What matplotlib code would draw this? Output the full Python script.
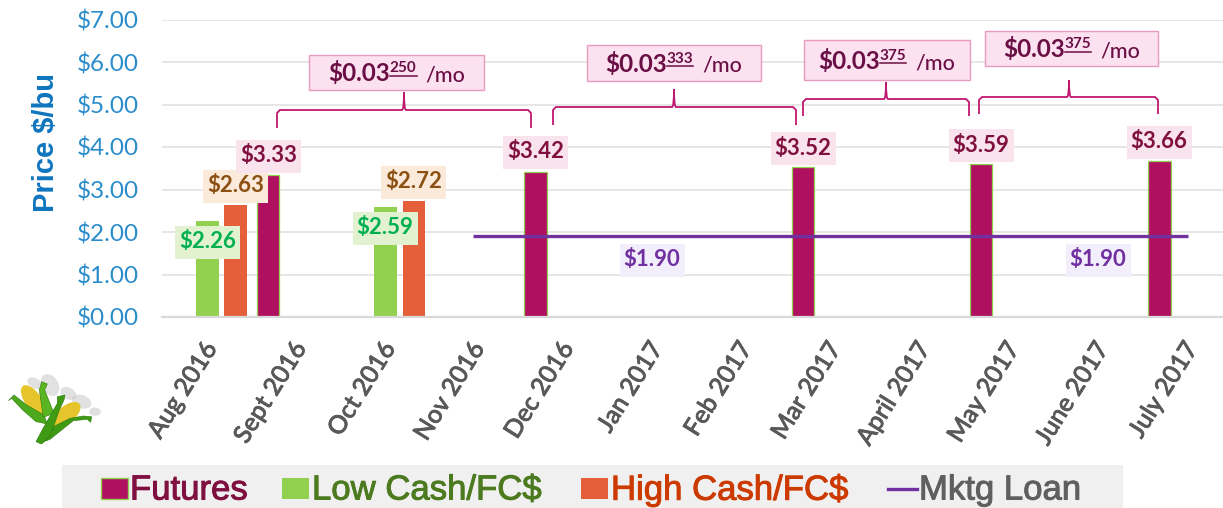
import numpy as np
import matplotlib
matplotlib.use("Agg")
import matplotlib.pyplot as plt
import matplotlib.patheffects as pe
from matplotlib.path import Path
from matplotlib.patches import PathPatch, Polygon, Ellipse, Rectangle

months = ["Aug 2016", "Sept 2016", "Oct 2016", "Nov 2016", "Dec 2016", "Jan 2017",
          "Feb 2017", "Mar 2017", "April 2017", "May 2017", "June 2017", "July 2017"]
low_cash = [2.26, np.nan, 2.59] + [np.nan] * 9
high_cash = [2.63, np.nan, 2.72] + [np.nan] * 9
futures = [np.nan, 3.33, np.nan, np.nan, 3.42, np.nan, np.nan, 3.52, np.nan, 3.59, np.nan, 3.66]
loan_value = 1.90
y_ticks = [0, 1, 2, 3, 4, 5, 6, 7]

W, H = 1223, 508
X0, STEP = 221.5, 89.15
L, R, T, B = 162, 1223, 19.5, 317

fig = plt.figure(figsize=(W / 100, H / 100), dpi=100)
ax = fig.add_axes([L / W, 1 - B / H, (R - L) / W, (B - T) / H])
ax.set_xlim((L - X0) / STEP, (R - X0) / STEP)
ax.set_ylim(0, 7)
for s in ["top", "right", "left"]:
    ax.spines[s].set_visible(False)
ax.spines["bottom"].set_color("#D9D9D9")
ax.spines["bottom"].set_linewidth(1.6)
ax.set_axisbelow(True)
ax.grid(axis="y", color="#E2E2E2", lw=1.2)

xs = np.arange(len(months))
ax.bar(xs - 0.157, low_cash, 0.26, color="#92D050")
ax.bar(xs + 0.157, high_cash, 0.25, color="#E55F3B")
ax.bar(xs - 0.478, futures, 0.25, color="#B01060", edgecolor="#92D050", linewidth=0.9)
ax.plot([2.82, 10.84], [loan_value, loan_value], color="#7030A0", lw=2.4, solid_capstyle="butt")

ax.set_yticks(y_ticks)
ax.set_yticklabels([f"${v}.00" for v in y_ticks], fontsize=17.5, color="#2A8CCB", family="Lato")
ax.tick_params(axis="y", length=0, pad=17)
ax.set_xticks(xs - 0.22)
ax.set_xticklabels(months, rotation=58, ha="right", va="top", rotation_mode="anchor",
                   fontsize=18, color="#595959", family="Lato", fontweight="medium",
                   path_effects=[pe.withStroke(linewidth=0.5, foreground="#595959")])
ax.tick_params(axis="x", length=0, pad=15)

# overlay in pixels for annotations
ov = fig.add_axes([0, 0, 1, 1], facecolor="none")
ov.set_xlim(0, W)
ov.set_ylim(H, 0)
ov.axis("off")


def box(cx, cy, txt, col, bg, w=65, h=33, fs=16):
    ov.add_patch(Rectangle((cx - w / 2, cy - h / 2), w, h, fc=bg, ec="none", zorder=4))
    ov.text(cx, cy, txt, color=col, ha="center", va="center", fontsize=fs, family="Lato",
            fontweight="bold", zorder=5)


for cx, cy, v in [(207.5, 242, low_cash[0]), (385, 228, low_cash[2])]:
    box(cx, cy, f"${v:.2f}", "#00B050", "#E2F2D0")
for cx, cy, v in [(235.5, 186, high_cash[0]), (413.5, 182, high_cash[2])]:
    box(cx, cy, f"${v:.2f}", "#8B5012", "#FBE9D9")
for cx, cy, v in [(268.5, 156, futures[1]), (535.5, 152, futures[4]), (803, 148.5, futures[7]),
                  (981, 145, futures[9]), (1159, 142, futures[11])]:
    box(cx, cy, f"${v:.2f}", "#7F1040", "#F9E3EC")
for cx, cy in [(652, 260), (1098, 260)]:
    box(cx, cy, f"${loan_value:.2f}", "#7030A0", "#F2EEFC")


def brace(x1, x2, top, mid, y_end, y_tip):
    c = 3
    verts = [(x1, y_end), (x1, top + c), (x1 + c, top), (mid - 2, top), (mid, top), (mid, y_tip),
             (mid, top), (mid + 2, top), (x2 - c, top), (x2, top + c), (x2, y_end)]
    codes = [Path.MOVETO, Path.LINETO, Path.LINETO, Path.LINETO, Path.CURVE3, Path.CURVE3,
             Path.CURVE3, Path.CURVE3, Path.LINETO, Path.LINETO, Path.LINETO]
    ov.add_patch(PathPatch(Path(verts, codes), fc="none", ec="#C0186F", lw=1.3, zorder=3))


brace(277, 531, 110, 404, 128, 92)
brace(553, 796, 107, 674, 125, 89)
brace(803, 969, 99, 886, 116, 82)
brace(979, 1158, 97, 1069, 114, 80)


def rate(x1, x2, y1, y2, sup, tx):
    ov.add_patch(Rectangle((x1, y1), x2 - x1, y2 - y1, fc="#FCE1F0", ec="#E89BC0", lw=1, zorder=4))
    cy = (y1 + y2) / 2
    t = ov.text(tx, cy + 1, "$0.03", color="#6A0F45", fontsize=17.5, family="Lato",
                fontweight="bold", ha="left", va="center", zorder=5)
    fig.canvas.draw()
    bb = t.get_window_extent().transformed(ov.transData.inverted())
    s = ov.text(bb.x1, cy - 4, sup, color="#6A0F45", fontsize=11, family="Lato",
                fontweight="bold", ha="left", va="center", zorder=5)
    bs = s.get_window_extent().transformed(ov.transData.inverted())
    ov.plot([bs.x0, bs.x1], [cy + 3, cy + 3], color="#6A0F45", lw=1.1, zorder=5)
    ov.text(bs.x1 + 9, cy + 3, "/mo", color="#6A0F45", fontsize=15.5, family="Lato",
            fontweight="medium", ha="left", va="center", zorder=5)


rate(309, 484, 55, 90, "250", 328)
rate(587, 761, 45, 81, "333", 605)
rate(804, 970, 40, 80, "375", 818)
rate(985, 1158, 31, 66, "375", 1003)

ov.text(46, 142, "Price $/bu", rotation=90, color="#0F75BD", fontsize=21, family="Liberation Sans",
        fontweight="bold", ha="center", va="center")

# legend
ov.add_patch(Rectangle((62, 465), 1061, 43, fc="#F0F0F0", ec="none"))


def legend_text(x, s, col):
    ov.text(x, 490, s, color=col, fontsize=25, family="Liberation Sans", va="center", ha="left",
            path_effects=[pe.withStroke(linewidth=0.7, foreground=col)])


ov.add_patch(Rectangle((101, 478), 27, 21, fc="#B01060", ec="#92D050", lw=1))
legend_text(130, "Futures", "#7F1040")
ov.add_patch(Rectangle((282, 478), 27, 21, fc="#92D050"))
legend_text(312, "Low Cash/FC$", "#4C7A1E")
ov.add_patch(Rectangle((581, 478), 27, 21, fc="#E55F3B"))
legend_text(611, "High Cash/FC$", "#CC3A00")
ov.plot([888, 917], [489, 489], color="#7030A0", lw=2.4)
legend_text(919, "Mktg Loan", "#5F5F5F")


# corn icon: shapes given in a 3x local grid, origin at (0, 360) px
def cp(points):
    return [(x / 3, 360 + y / 3) for x, y in points]


def ce(x, y, w, h, angle, **kw):
    ov.add_patch(Ellipse((x / 3, 360 + y / 3), w / 3, h / 3, angle=angle, ec="none", **kw))


for x, y, w, h, a in [(150, 75, 70, 50, 60), (205, 100, 50, 35, 30), (245, 125, 60, 40, 20),
                      (285, 155, 35, 25, 0), (105, 70, 50, 30, 30)]:
    ce(x, y, w, h, a, fc="#BDBDBD", alpha=0.45)
ce(100, 122, 50, 108, -35, fc="#E6C52C")
ce(198, 165, 52, 105, 50, fc="#E6C52C")
for pts, col in [
    ([(25, 122), (42, 105), (80, 135), (132, 165), (142, 192), (108, 185), (68, 150), (35, 115)], "#4CA81C"),
    ([(275, 170), (272, 187), (262, 178), (220, 182), (150, 238), (118, 250), (150, 205), (210, 175), (250, 168)], "#3F9A14"),
    ([(125, 65), (142, 72), (134, 90), (162, 160), (130, 172), (118, 90)], "#5AB522"),
    ([(195, 105), (172, 110), (172, 130), (132, 200), (108, 245), (125, 252), (152, 225), (178, 150), (192, 120)], "#3F9A14"),
]:
    ov.add_patch(Polygon(cp(pts), fc=col, ec="#2C7A0C", lw=0.4))

fig.savefig("out.png", dpi=100)
